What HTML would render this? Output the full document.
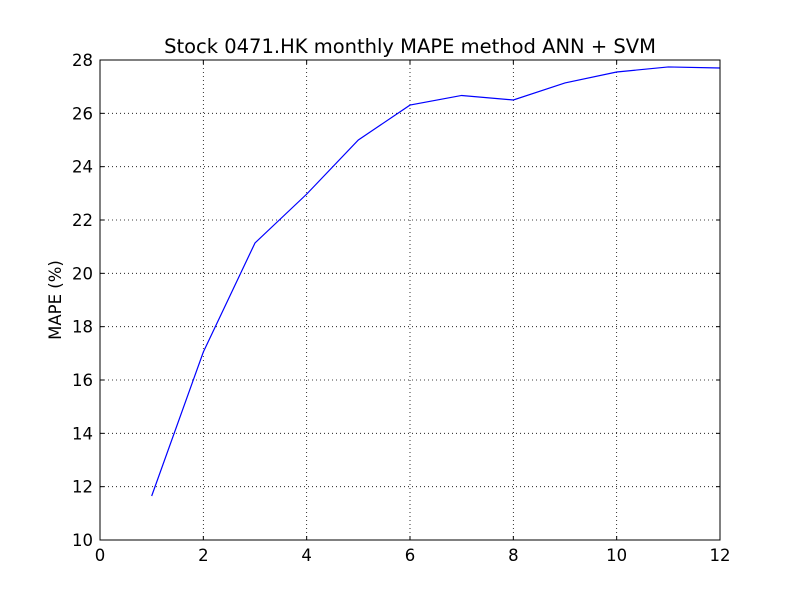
<!DOCTYPE html>
<html><head><meta charset="utf-8"><style>
body{margin:0;background:#fff;}
svg{display:block;font-family:"DejaVu Sans","Liberation Sans",sans-serif;}
</style></head><body>
<svg id="chart" width="800" height="600">
<rect width="800" height="600" fill="#fff"/>
<text x="410" y="53" font-size="19.5" text-anchor="middle">Stock 0471.HK monthly MAPE method ANN + SVM</text>
<text transform="translate(61,300) rotate(-90)" font-size="16.5" text-anchor="middle">MAPE (%)</text>
<g id="grid"></g><g id="ticks"></g>
<polyline id="line" fill="none" stroke="#0000ff" stroke-width="1.2"/>
<rect x="100" y="60" width="620" height="480" fill="none" stroke="#000" stroke-width="1"/>
</svg>
<script>
const months=[1,2,3,4,5,6,7,8,9,10,11,12];
const mape=[11.65,17.05,21.14,22.97,25.0,26.31,26.67,26.5,27.14,27.55,27.74,27.7];
const xTicks=[0,2,4,6,8,10,12];
const yTicks=[10,12,14,16,18,20,22,24,26,28];
const X0=100,X1=720,Y0=540,Y1=60;
const sx=v=>X0+(v-0)/(12-0)*(X1-X0);
const sy=v=>Y0-(v-10)/(28-10)*(Y0-Y1);
const NS="http://www.w3.org/2000/svg";
const grid=document.getElementById('grid'),ticks=document.getElementById('ticks');
function mk(tag,attrs,parent){const e=document.createElementNS(NS,tag);for(const k in attrs)e.setAttribute(k,attrs[k]);parent.appendChild(e);return e;}
xTicks.forEach(t=>{const x=sx(t);
 const g=mk('line',{x1:x,x2:x,y1:Y1,y2:Y0,stroke:'#000','stroke-dasharray':'1,3','stroke-width':0.8},grid);
 
 
 mk('line',{x1:x,x2:x,y1:Y0,y2:Y0-4,stroke:'#000'},ticks);
 mk('line',{x1:x,x2:x,y1:Y1,y2:Y1+4,stroke:'#000'},ticks);
 const l=mk('text',{x:x,y:Y0+21,'font-size':16.5,'text-anchor':'middle'},ticks);l.textContent=t;
 
 
});
yTicks.forEach(t=>{const y=sy(t);
 const g=mk('line',{x1:X0,x2:X1,y1:y,y2:y,stroke:'#000','stroke-dasharray':'1,3','stroke-width':0.8},grid);
 
 
 mk('line',{x1:X0,x2:X0+4,y1:y,y2:y,stroke:'#000'},ticks);
 mk('line',{x1:X1,x2:X1-4,y1:y,y2:y,stroke:'#000'},ticks);
 const l=mk('text',{x:X0-7,y:y+6,'font-size':16.5,'text-anchor':'end'},ticks);l.textContent=t;
 
 
});
document.getElementById('line').setAttribute('points',months.map((m,i)=>sx(m)+','+sy(mape[i])).join(' '));
</script>
</body></html>
